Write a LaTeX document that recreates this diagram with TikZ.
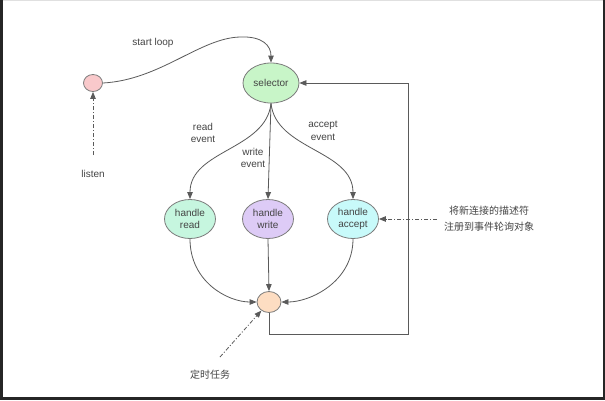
\documentclass[tikz,border=0pt]{standalone}
\usepackage{fontspec}
\setmainfont{Liberation Sans}
\newfontfamily\cjk{Noto Sans CJK SC}
\usetikzlibrary{arrows.meta,shapes.geometric}
\definecolor{linec}{HTML}{5A5A5A}
\definecolor{txtc}{HTML}{444444}
\definecolor{pinkc}{HTML}{F9C9CB}
\definecolor{selc}{HTML}{C8F5C8}
\definecolor{readc}{HTML}{C6F6DF}
\definecolor{writec}{HTML}{DDCBF6}
\definecolor{acceptc}{HTML}{C8FAFA}
\definecolor{joinc}{HTML}{FDDDC2}
\begin{document}
\begin{tikzpicture}[x=1pt,y=-1pt,
  ell/.style={ellipse, draw=linec!80, line width=0.8pt, inner sep=0pt, align=center,
    text=txtc, font=\fontsize{10}{11.5}\selectfont},
  lbl/.style={text=txtc, align=center, font=\fontsize{10}{12.5}\selectfont, inner sep=0pt},
  arr/.style={draw=linec, line width=0.8pt, -{Triangle[length=7pt,width=5.5pt]}},
  dd/.style={arr, dash pattern=on 4pt off 2pt on 1pt off 2pt}]
\useasboundingbox (0,0) rectangle (605,400);
\fill[black!85] (0,0) rectangle (605,400);
\fill[white] (3,0) rectangle (603,397);
\fill[black!12] (3,0) rectangle (603,1.2);
% nodes
\node[ell, fill=pinkc, minimum width=19pt, minimum height=17pt] (start) at (93,83) {};
\node[ell, fill=selc, minimum width=56pt, minimum height=40pt] (sel) at (271,83) {selector};
\node[ell, fill=readc, minimum width=51pt, minimum height=39pt] (hr) at (190,219) {handle\\read};
\node[ell, fill=writec, minimum width=51pt, minimum height=39pt] (hw) at (268,219) {handle\\write};
\node[ell, fill=acceptc, minimum width=51pt, minimum height=39pt] (ha) at (353,219) {handle\\accept};
\node[ell, fill=joinc, minimum width=24pt, minimum height=21pt] (join) at (269,302) {};
% labels
\node[lbl] (startlbl) at (153,43) {start loop};
\node[lbl] (readlbl) at (203,133) {read\\event};
\node[lbl] (writelbl) at (253,158) {write\\event};
\node[lbl] (acceptlbl) at (323,131) {accept\\event};
\node[lbl] (listen) at (93,174) {listen};
\node[lbl, font=\cjk\fontsize{10}{16}\selectfont] (timer) at (210,375) {定时任务};
\node[lbl, font=\cjk\fontsize{10}{16}\selectfont] (note) at (489,219) {将新连接的描述符\\注册到事件轮询对象};
% free ends
\coordinate (lstart) at (93,155);
\coordinate (tstart) at (220,357);
\coordinate (nstart) at (437,219);
\coordinate (fbA) at (408,334);
% connectors
\draw[arr] (start.east) .. controls (160,80) and (200,38) .. (240,37) .. controls (263,36) and (271,46) .. (sel.north);
\draw[arr] (sel.south) .. controls (266,150) and (190,150) .. (hr.north);
\draw[arr] (sel.south) -- (hw.north);
\draw[arr] (sel.south) .. controls (276,150) and (353,150) .. (ha.north);
\draw[arr] (hr.south) .. controls (190,282) and (228,302) .. (join.west);
\draw[arr] (hw.south) -- (join.north);
\draw[arr] (ha.south) .. controls (353,282) and (310,302) .. (join.east);
\draw[arr] (join.south) |- (fbA) |- (sel.east);
\draw[dd] (lstart) -- (start.south);
\draw[dd] (tstart) -- (join);
\draw[dd] (nstart) -- (ha.east);
\end{tikzpicture}
\end{document}
